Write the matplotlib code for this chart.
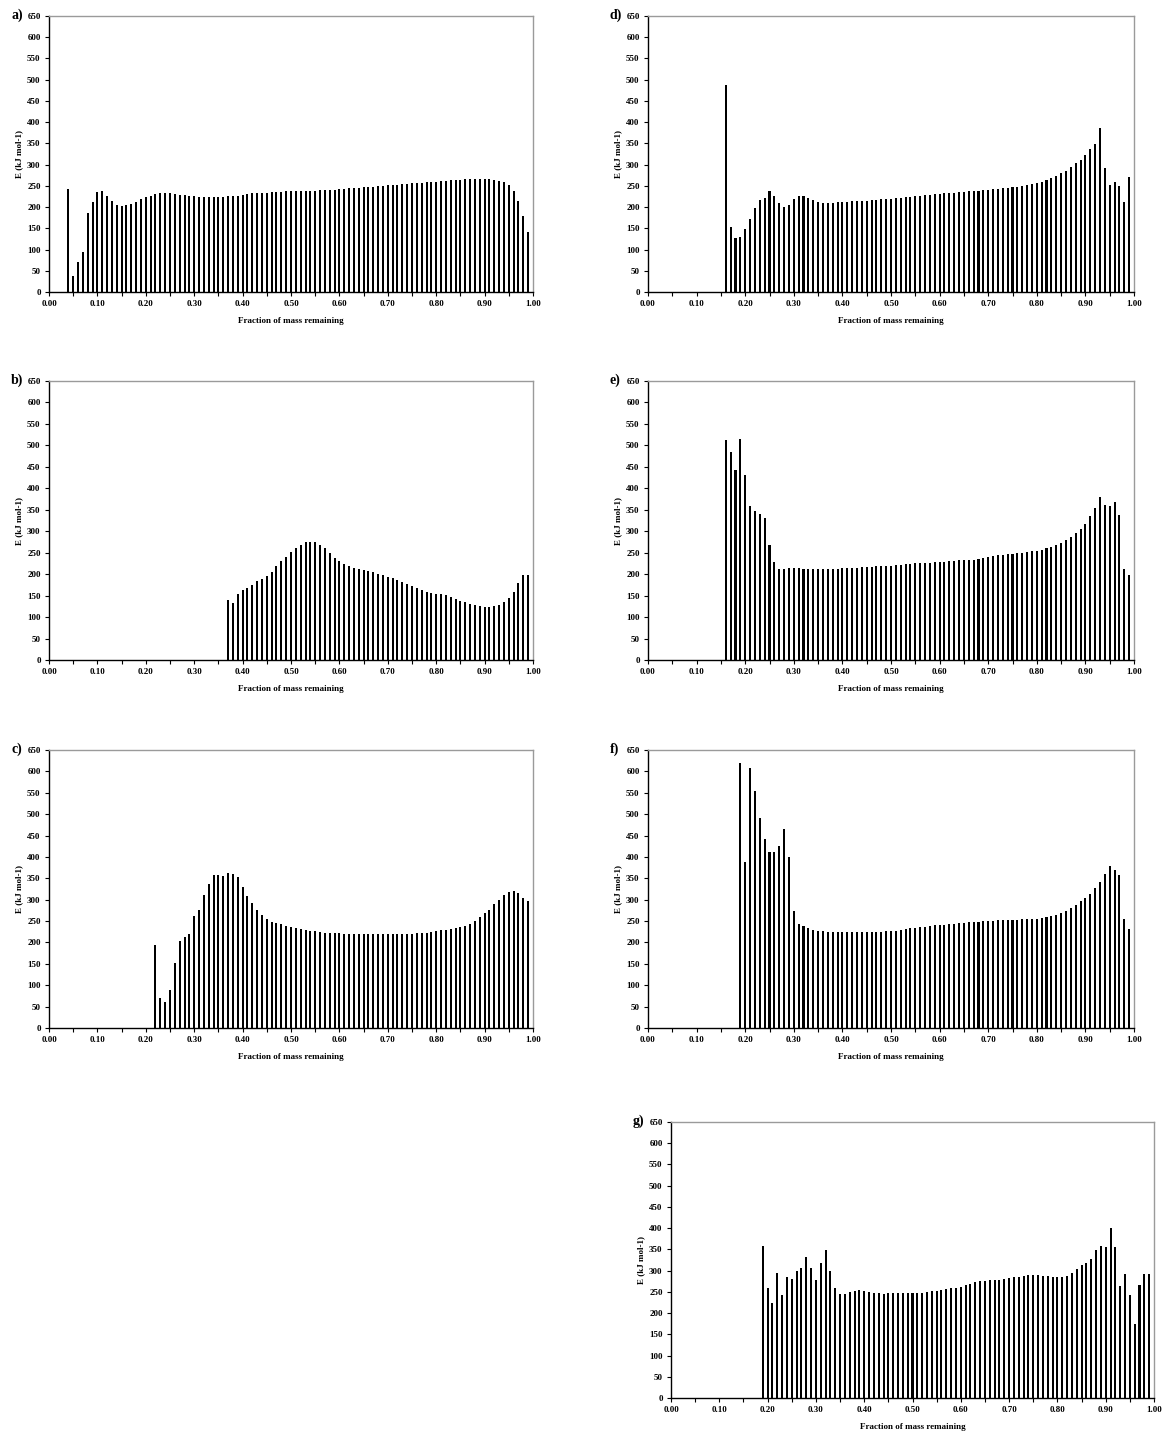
import numpy as np
import matplotlib
matplotlib.use('Agg')
import matplotlib.pyplot as plt
from matplotlib.ticker import MultipleLocator, FormatStrFormatter

plt.rcParams['font.family'] = ['Liberation Serif', 'DejaVu Serif']
plt.rcParams['font.weight'] = 'bold'

# activation energy vs fraction of mass remaining, one bar every 0.01
a_start = 0.04
a_vals = [243, 37, 70, 94, 187, 211, 235, 237, 226, 214, 206, 202, 204, 208, 213, 219,
          223, 227, 230, 232, 232, 232, 231, 229, 228, 227, 225, 224, 224, 223, 223, 224,
          224, 225, 226, 227, 229, 230, 232, 233, 234, 234, 235, 236, 236, 237, 237, 238,
          238, 239, 239, 239, 240, 240, 241, 241, 243, 243, 244, 245, 246, 247, 248, 248,
          249, 250, 251, 252, 253, 254, 255, 256, 256, 257, 258, 259, 260, 261, 262, 263,
          264, 264, 265, 265, 265, 265, 265, 265, 264, 262, 258, 251, 237, 214, 178, 142]

b_start = 0.37
b_vals = [139, 132, 154, 162, 168, 175, 184, 189, 196, 205, 218, 230, 241, 251, 261, 268,
          274, 274, 274, 269, 260, 249, 238, 230, 224, 219, 215, 212, 210, 207, 204, 201,
          198, 194, 190, 186, 182, 177, 172, 168, 164, 159, 156, 154, 153, 151, 146, 141,
          137, 134, 131, 128, 126, 124, 124, 125, 129, 134, 144, 159, 179, 199, 199]

c_start = 0.22
c_vals = [193, 70, 60, 90, 151, 204, 213, 220, 262, 276, 312, 337, 357, 357, 355, 362,
          359, 352, 330, 309, 292, 277, 265, 256, 249, 245, 242, 239, 236, 233, 231, 229,
          227, 226, 224, 223, 222, 222, 221, 220, 220, 219, 219, 219, 219, 219, 219, 219,
          219, 219, 219, 219, 219, 220, 221, 222, 223, 225, 226, 228, 229, 231, 233, 235,
          239, 244, 251, 259, 268, 277, 289, 300, 311, 319, 320, 315, 305, 296]

d_start = 0.16
d_vals = [487, 154, 127, 130, 149, 173, 199, 216, 221, 237, 227, 209, 200, 206, 218, 225,
          227, 222, 216, 212, 210, 209, 210, 211, 213, 213, 214, 214, 215, 215, 216, 217,
          218, 219, 220, 221, 222, 223, 224, 225, 227, 228, 229, 230, 231, 232, 233, 234,
          235, 236, 237, 238, 239, 240, 241, 242, 243, 244, 245, 247, 248, 250, 252, 254,
          256, 259, 263, 268, 274, 280, 286, 294, 303, 312, 322, 337, 349, 386, 292, 251,
          258, 249, 213, 270]

e_start = 0.16
e_vals = [513, 485, 443, 514, 431, 359, 347, 340, 331, 267, 229, 213, 213, 214, 214, 214,
          213, 213, 212, 211, 212, 212, 213, 213, 214, 214, 215, 215, 216, 216, 217, 218,
          218, 219, 220, 221, 222, 223, 224, 225, 225, 226, 227, 228, 229, 229, 230, 231,
          232, 233, 233, 234, 236, 238, 240, 242, 244, 245, 246, 247, 249, 250, 252, 254,
          255, 257, 260, 264, 269, 273, 279, 286, 295, 305, 316, 335, 355, 379, 362, 359,
          368, 338, 212, 198]

f_start = 0.19
f_vals = [619, 389, 609, 554, 491, 442, 412, 411, 426, 466, 400, 274, 242, 238, 233, 229,
          227, 226, 225, 225, 225, 225, 225, 225, 225, 225, 225, 225, 225, 225, 226, 226,
          227, 229, 231, 233, 234, 236, 237, 239, 240, 240, 241, 242, 243, 245, 246, 247,
          248, 249, 250, 251, 251, 252, 253, 253, 253, 253, 254, 254, 255, 256, 258, 260,
          262, 265, 268, 273, 280, 288, 296, 304, 314, 327, 342, 360, 379, 369, 357, 254,
          232]

g_start = 0.19
g_vals = [358, 258, 223, 295, 242, 286, 280, 300, 306, 331, 305, 279, 317, 349, 300, 258,
          244, 244, 250, 253, 254, 252, 250, 248, 247, 246, 247, 247, 247, 247, 247, 247,
          247, 248, 249, 251, 252, 254, 256, 258, 260, 262, 265, 269, 273, 275, 276, 277,
          277, 278, 280, 282, 284, 286, 288, 289, 289, 289, 288, 287, 286, 285, 285, 287,
          294, 304, 314, 317, 328, 348, 357, 355, 401, 355, 264, 293, 243, 174, 267, 292,
          291]

panels = [('a)', a_start, a_vals), ('b)', b_start, b_vals), ('c)', c_start, c_vals),
          ('d)', d_start, d_vals), ('e)', e_start, e_vals), ('f)', f_start, f_vals),
          ('g)', g_start, g_vals)]

# axes boxes in pixels: left, top, right, bottom
boxes = [(49, 16, 533, 292), (49, 381, 533, 660), (49, 750, 533, 1028),
         (648, 16, 1134, 292), (648, 381, 1134, 660), (648, 750, 1134, 1028),
         (671, 1122, 1154, 1398)]

W, H = 1168, 1431
fig = plt.figure(figsize=(W / 100, H / 100), dpi=100)

for (label, start, vals), (l, t, r, b) in zip(panels, boxes):
    ax = fig.add_axes([l / W, 1 - b / H, (r - l) / W, (b - t) / H])
    x = start + 0.01 * np.arange(len(vals))
    ax.bar(x, vals, width=0.0042, color='black', linewidth=0)
    ax.set_xlim(0, 1)
    ax.set_ylim(0, 650)
    ax.xaxis.set_major_locator(MultipleLocator(0.1))
    ax.xaxis.set_minor_locator(MultipleLocator(0.05))
    ax.xaxis.set_major_formatter(FormatStrFormatter('%.2f'))
    ax.yaxis.set_major_locator(MultipleLocator(50))
    ax.tick_params(which='both', direction='out', length=3, width=0.8,
                   labelsize=6.5, pad=3)
    for s in ('left', 'bottom'):
        ax.spines[s].set_color('black')
        ax.spines[s].set_linewidth(1.0)
    for s in ('top', 'right'):
        ax.spines[s].set_color('#9a9a9a')
        ax.spines[s].set_linewidth(1.0)
    ax.set_xlabel('Fraction of mass remaining', fontsize=6.5, fontweight='bold', labelpad=6)
    ax.set_ylabel('E (kJ mol-1)', fontsize=6.5, fontweight='bold', labelpad=3)
    fig.text((l - 38) / W, 1 - (t - 1) / H, label, fontsize=10, fontweight='bold',
             ha='left', va='center')

fig.savefig('out.png', dpi=100)
